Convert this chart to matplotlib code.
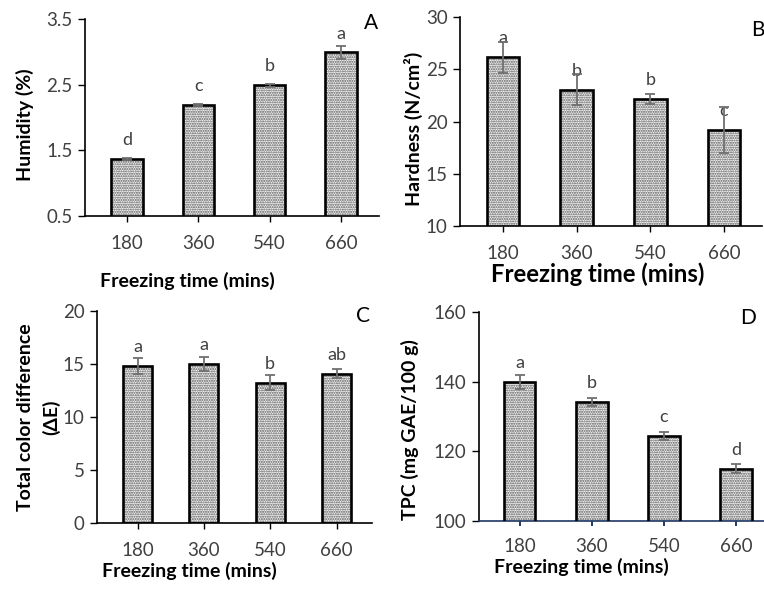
import matplotlib
matplotlib.use('Agg')
import matplotlib.pyplot as plt
import numpy as np

plt.rcParams['font.family'] = ['Lato', 'DejaVu Sans']
plt.rcParams['hatch.linewidth'] = 1.0

# ---------------- data ----------------
times = ['180', '360', '540', '660']

humidity = [1.37, 2.19, 2.49, 2.99]
humidity_err = [0.02, 0.01, 0.02, 0.10]
humidity_letters = ['d', 'c', 'b', 'a']

hardness = [26.15, 23.06, 22.13, 19.17]
hardness_err = [1.5, 1.5, 0.5, 2.17]
hardness_letters = ['a', 'b', 'b', 'c']

color_diff = [14.83, 14.99, 13.23, 14.08]
color_diff_err = [0.76, 0.66, 0.72, 0.41]
color_diff_letters = ['a', 'a', 'b', 'ab']

tpc = [139.9, 134.2, 124.4, 115.0]
tpc_err = [2.1, 1.05, 1.15, 1.34]
tpc_letters = ['a', 'b', 'c', 'd']

W, H = 764, 589
fig = plt.figure(figsize=(W / 100, H / 100), dpi=100)

TXT = '#404040'

panels = [
    dict(box=(85, 379, 19, 216), centers=(127, 341), vals=humidity, err=humidity_err,
         letters=humidity_letters, ylim=(0.5, 3.5), yticks=[0.5, 1.5, 2.5, 3.5],
         yfmt='{:.1f}', ylabel='Humidity (%)', ylab_px=(25, 125), xlab_px=(187, 281),
         xlab_size=14, tag='A', tag_px=(371, 23)),
    dict(box=(460, 762, 17, 226), centers=(503, 724), vals=hardness, err=hardness_err,
         letters=hardness_letters, ylim=(10, 30), yticks=[10, 15, 20, 25, 30],
         yfmt='{:.0f}', ylabel='Hardness (N/cm²)', ylab_px=(413, 129), xlab_px=(598, 274),
         xlab_size=17.2, tag='B', tag_px=(758, 30)),
    dict(box=(97, 372, 311, 523), centers=(137.5, 336.5), vals=color_diff, err=color_diff_err,
         letters=color_diff_letters, ylim=(0, 20), yticks=[0, 5, 10, 15, 20],
         yfmt='{:.0f}', ylabel='Total color difference\n(ΔE)', ylab_px=(38.5, 417), xlab_px=(189, 571),
         xlab_size=14, tag='C', tag_px=(363, 316)),
    dict(box=(479, 764, 312, 521), centers=(519.5, 736), vals=tpc, err=tpc_err,
         letters=tpc_letters, ylim=(100, 160), yticks=[100, 120, 140, 160],
         yfmt='{:.0f}', ylabel='TPC (mg GAE/100 g)', ylab_px=(410, 430), xlab_px=(581, 567),
         xlab_size=14, tag='D', tag_px=(748, 318)),
]

for i, p in enumerate(panels):
    l, r, t, b = p['box']
    ax = fig.add_axes([l / W, 1 - b / H, (r - l) / W, (b - t) / H])
    c0, c3 = p['centers']
    step = (c3 - c0) / 3.0
    x = np.arange(len(times))
    ax.set_xlim(-(c0 - l) / step, 3 + (r - c3) / step)
    ax.set_ylim(*p['ylim'])
    bw = 0.44
    # dotted fill
    ax.bar(x, p['vals'], width=bw, color='#f4f4f4', edgecolor='#555555', hatch='.......',
           linewidth=0, zorder=2)
    # outline
    ax.bar(x, p['vals'], width=bw, fill=False, edgecolor='black', linewidth=1.9, zorder=3)
    ax.errorbar(x, p['vals'], yerr=p['err'], fmt='none', ecolor='#707070', elinewidth=1.3,
                capsize=3.5, capthick=1.3, zorder=4)
    for xi, v, letter in zip(x, p['vals'], p['letters']):
        ax.annotate(letter, (xi, v), xytext=(0, 10), textcoords='offset points',
                    ha='center', va='baseline', fontsize=13, color=TXT)
    ax.set_xticks(x)
    ax.set_xticklabels(times)
    ax.set_yticks(p['yticks'])
    ax.set_yticklabels([p['yfmt'].format(v) for v in p['yticks']])
    for s in ['top', 'right']:
        ax.spines[s].set_visible(False)
    ax.spines['left'].set_linewidth(1.2)
    ax.spines['bottom'].set_linewidth(1.2)
    if i == 3:
        ax.spines['bottom'].set_color('#1f3864')
        ax.tick_params(axis='x', direction='inout', length=7, width=1.4, colors='#1f3864',
                       labelcolor=TXT, pad=9)
    else:
        ax.tick_params(axis='x', direction='out', length=4, width=1.0, pad=10, labelcolor=TXT)
    ax.tick_params(axis='y', direction='out', length=5, width=1.0, pad=4, labelcolor=TXT)
    ax.tick_params(labelsize=13.5)

    def axc(px, py):
        return ((px - l) / (r - l), (b - py) / (b - t))

    ax.set_ylabel(p['ylabel'], fontsize=14, fontweight='bold', va='center', ha='center',
                  linespacing=1.55)
    ax.yaxis.set_label_coords(*axc(*p['ylab_px']))
    ax.set_xlabel('Freezing time (mins)', fontsize=p['xlab_size'], fontweight='bold',
                  va='center', ha='center')
    ax.xaxis.set_label_coords(*axc(*p['xlab_px']))
    fig.text(p['tag_px'][0] / W, 1 - p['tag_px'][1] / H, p['tag'], fontsize=15,
             ha='center', va='center', color='black')

fig.savefig('out.png', dpi=100)
